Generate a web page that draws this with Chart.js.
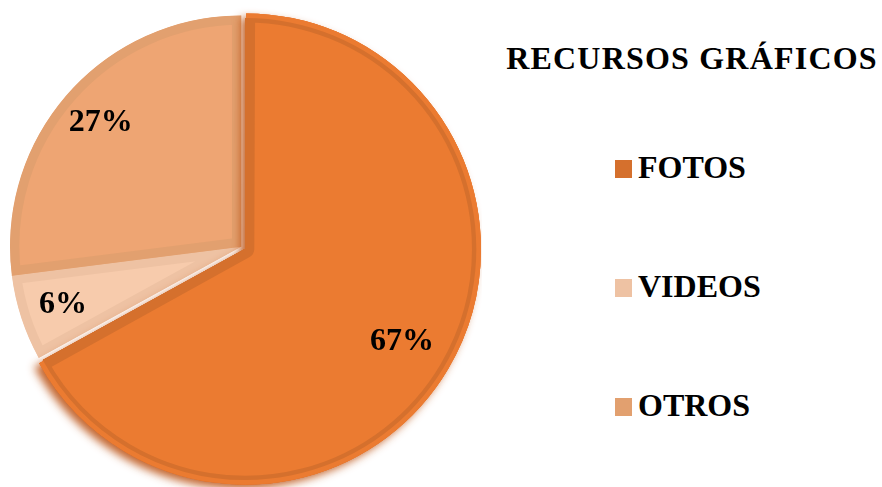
<!DOCTYPE html>
<html lang="es">
<head>
<meta charset="utf-8">
<title>Recursos gráficos</title>
<script src="https://cdn.jsdelivr.net/npm/chart.js@4.4.1/dist/chart.umd.min.js"></script>
<style>
  html, body { margin: 0; padding: 0; background: #fff; }
  body { width: 882px; height: 487px; position: relative; overflow: hidden; font-family: "Liberation Serif", "Times New Roman", serif; color: #000; }
  #pie-wrap { position: absolute; left: 0; top: 0; width: 482px; height: 487px; }
  #titulo { position: absolute; left: 492px; width: 400px; top: 42px; text-align: center; font-weight: bold; font-size: 32px; line-height: 32px; letter-spacing: 1.2px; white-space: nowrap; }
  #leyenda { position: absolute; left: 615px; top: 151px; margin: 0; padding: 0; list-style: none; }
  #leyenda li { font-weight: bold; font-size: 32px; line-height: 32px; height: 32px; margin-bottom: 87px; white-space: nowrap; }
  #leyenda .cuadro { display: inline-block; width: 17px; height: 18px; margin-right: 6px; vertical-align: baseline; }
</style>
</head>
<body>
<div id="pie-wrap"><canvas id="grafico"></canvas></div>
<div id="titulo"></div>
<ul id="leyenda"></ul>
<script>
// ── Datos ────────────────────────────────────────────────
const titulo = 'RECURSOS GRÁFICOS';
const categorias = ['FOTOS', 'VIDEOS', 'OTROS'];
const porcentajes = [67, 6, 27];

// ── Colores ──────────────────────────────────────────────
const relleno = ['#EB7B31', '#F7CBAC', '#EEA573'];
const borde   = ['#D5702D', '#EEC2A3', '#E2A06F'];

// sombra suave del sector separado
const sombra = {
  id: 'sombra',
  afterDatasetsDraw(chart, args, o) {
    const arc = chart.getDatasetMeta(0).data[o.index];
    if (!arc) return;
    const ctx = chart.ctx;
    ctx.save();
    ctx.shadowColor = o.color; ctx.shadowBlur = o.blur;
    ctx.shadowOffsetX = o.dx; ctx.shadowOffsetY = o.dy;
    arc.draw(ctx);
    ctx.restore();
    arc.draw(ctx);
  }
};

// porcentaje dentro de cada sector
const etiquetas = {
  id: 'etiquetas',
  afterDatasetsDraw(chart, args, o) {
    const ctx = chart.ctx, vals = chart.data.datasets[0].data;
    ctx.save();
    ctx.font = o.font; ctx.fillStyle = o.color;
    ctx.textAlign = 'center'; ctx.textBaseline = 'middle';
    chart.getDatasetMeta(0).data.forEach((arc, i) => {
      const p = arc.getProps(['x', 'y', 'startAngle', 'endAngle', 'outerRadius'], true);
      const a = (p.startAngle + p.endAngle) / 2, r = p.outerRadius * o.pos;
      ctx.fillText(vals[i] + '%', p.x + Math.cos(a) * r, p.y + Math.sin(a) * r);
    });
    ctx.restore();
  }
};

// leyenda en HTML (título + cuadros)
const leyendaHtml = {
  id: 'leyendaHtml',
  afterUpdate(chart) {
    document.getElementById('titulo').textContent = titulo;
    const ul = document.getElementById('leyenda');
    const items = chart.options.plugins.legend.labels.generateLabels(chart);
    ul.innerHTML = items.map(it =>
      `<li><span class="cuadro" style="background:${it.strokeStyle}"></span>${it.text}</li>`
    ).join('');
  }
};

new Chart(document.getElementById('grafico'), {
  type: 'pie',
  data: {
    labels: categorias,
    datasets: [{
      data: porcentajes,
      backgroundColor: relleno,
      borderColor: borde,
      borderWidth: 9,
      borderAlign: 'inner',
      offset: [20, 0, 0],
      radius: 231,
      clip: false
    }]
  },
  options: {
    responsive: true, maintainAspectRatio: false, animation: false, events: [],
    layout: { padding: { top: 6 } },
    plugins: {
      legend: { display: false },
      tooltip: { enabled: false },
      sombra: { index: 0, color: 'rgba(190,88,28,0.9)', blur: 9, dx: -5, dy: 4 },
      etiquetas: { font: 'bold 32px "Liberation Serif", "Times New Roman", serif', color: '#000', pos: 0.81 }
    }
  },
  plugins: [sombra, etiquetas, leyendaHtml]
});
</script>
</body>
</html>
